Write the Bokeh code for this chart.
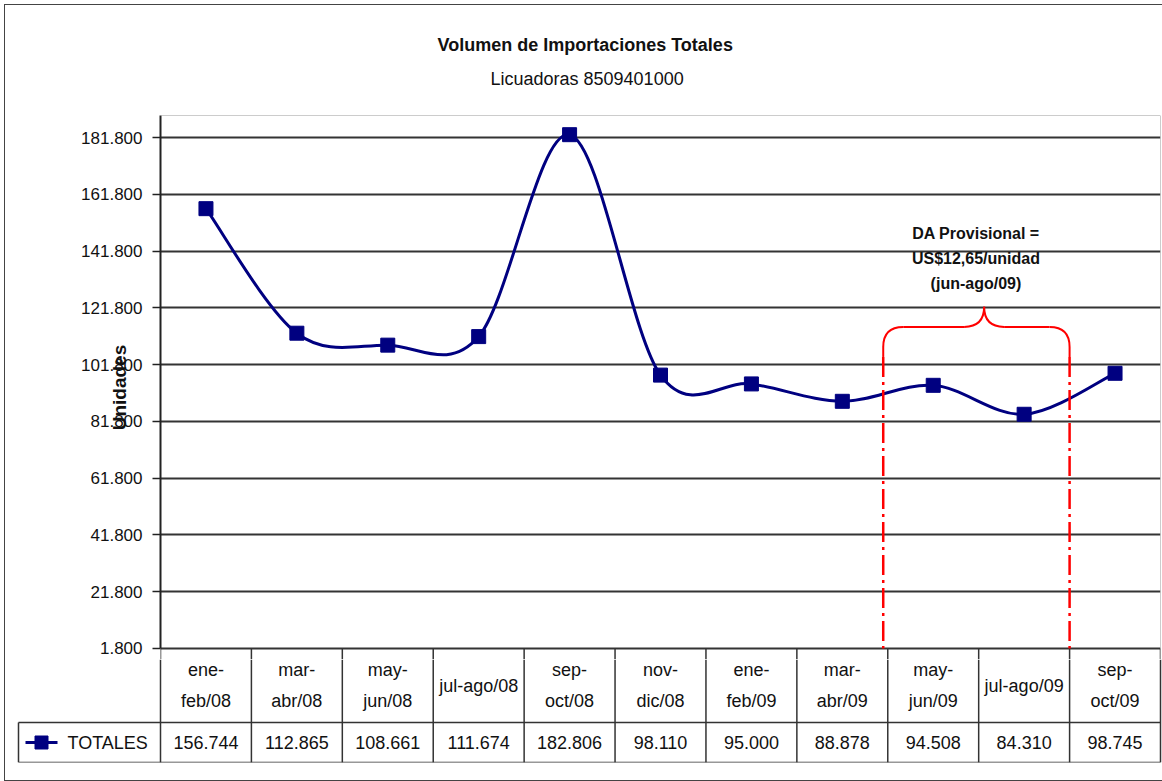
from bokeh.plotting import figure
from bokeh.models import Range1d, FixedTicker, CustomJSTickFormatter, Title, Span
from bokeh.layouts import column
from bokeh.embed import file_html
from bokeh.resources import INLINE
from bokeh.core.properties import value

# ---------------- data ----------------
categories = ["ene-\nfeb/08", "mar-\nabr/08", "may-\njun/08", "jul-ago/08", "sep-\noct/08",
              "nov-\ndic/08", "ene-\nfeb/09", "mar-\nabr/09", "may-\njun/09", "jul-ago/09",
              "sep-\noct/09"]
totales = [156744, 112865, 108661, 111674, 182806, 98110, 95000, 88878, 94508, 84310, 98745]
y_ticks = [1800, 21800, 41800, 61800, 81800, 101800, 121800, 141800, 161800, 181800]
series_name = "TOTALES"
title_text = "Volumen de Importaciones Totales"
subtitle_text = "Licuadoras 8509401000"
y_label = "Unidades"
note_lines = ["DA Provisional =", "US$12,65/unidad", "(jun-ago/09)"]

# annotation geometry (data units)
BR_LEFT, BR_RIGHT, BR_TIP = 7.45, 9.5, 8.56
BR_CORNER, BR_MID, BR_TOP, BR_SOLID = 108035, 115094, 122153, 104500
NOTE_X, NOTE_Y = 8.47, [148000, 139200, 130400]

FONT = "Liberation Sans"
NAVY = "#000080"
RED = "#FF0000"
INK = "#111111"
Y_START, Y_END = -2082, 189565

n = len(totales)
xs = list(range(n))

# ---------------- main chart ----------------
p = figure(width=1157, height=654, x_range=Range1d(-0.5, 10.5),
           y_range=Range1d(Y_START, Y_END), output_backend="svg", toolbar_location=None,
           x_axis_location=None, min_border_left=155, min_border_right=2,
           min_border_top=110, min_border_bottom=0)
p.frame_align = False
p.outline_line_color = None
p.xgrid.visible = False
p.ygrid.ticker = FixedTicker(ticks=y_ticks)
p.ygrid.grid_line_color = "#333333"
p.ygrid.grid_line_width = 2
ax = p.yaxis[0]
ax.ticker = FixedTicker(ticks=y_ticks)
ax.bounds = (y_ticks[0], Y_END)
ax.formatter = CustomJSTickFormatter(code="return (tick/1000).toFixed(3);")
ax.major_tick_out = 8
ax.major_tick_in = 0
ax.minor_tick_line_color = None
ax.axis_line_color = "#222222"
ax.axis_line_width = 2
ax.major_tick_line_color = "#222222"
ax.major_tick_line_width = 1.5
ax.major_label_text_font = FONT
ax.major_label_text_font_size = "17px"
ax.major_label_text_color = INK
ax.major_label_standoff = 10
ax.axis_label = y_label
ax.axis_label_text_font = FONT
ax.axis_label_text_font_style = "bold"
ax.axis_label_text_font_size = "19px"
ax.axis_label_text_color = INK
ax.axis_label_standoff = -52

p.add_layout(Span(location=Y_END, dimension="width", line_color="#999999", line_width=1))
p.add_layout(Span(location=10.5, dimension="height", line_color="#999999", line_width=1))

p.add_layout(Title(text=subtitle_text, align="left", offset=330, standoff=53,
                   text_font=FONT, text_font_style="normal", text_font_size="18px",
                   text_color=INK), "above")
p.add_layout(Title(text=title_text, align="left", offset=277, standoff=-29,
                   text_font=FONT, text_font_style="bold", text_font_size="18px",
                   text_color=INK), "above")

# upper part of the data-table column borders (below the 1.800 line)
bounds = [i - 0.5 for i in range(n + 1)]
p.segment(x0=bounds, y0=[y_ticks[0]] * len(bounds), x1=bounds, y1=[Y_START] * len(bounds),
          line_color="#333333", line_width=1.5)

# smoothed line (Excel-like cubic Bezier through the data points)
x0, y0, x1, y1, cx0, cy0, cx1, cy1 = [], [], [], [], [], [], [], []
for i in range(n - 1):
    pm = i - 1 if i > 0 else 0
    pp = i + 2 if i + 2 < n else n - 1
    x0.append(xs[i]); y0.append(totales[i])
    x1.append(xs[i + 1]); y1.append(totales[i + 1])
    cx0.append(xs[i] + (xs[i + 1] - xs[pm]) / 6.0)
    cy0.append(totales[i] + (totales[i + 1] - totales[pm]) / 6.0)
    cx1.append(xs[i + 1] - (xs[pp] - xs[i]) / 6.0)
    cy1.append(totales[i + 1] - (totales[pp] - totales[i]) / 6.0)
p.bezier(x0=x0, y0=y0, x1=x1, y1=y1, cx0=cx0, cy0=cy0, cx1=cx1, cy1=cy1,
         line_color=NAVY, line_width=3)
p.scatter(xs, totales, marker="square", size=14, fill_color=NAVY, line_color=NAVY)

# red brace
dx = 0.22
p.quadratic(x0=[BR_LEFT, BR_TIP - dx, BR_TIP + dx, BR_RIGHT - dx],
            y0=[BR_CORNER, BR_MID, BR_MID, BR_MID],
            x1=[BR_LEFT + dx, BR_TIP, BR_TIP, BR_RIGHT],
            y1=[BR_MID, BR_TOP, BR_TOP, BR_CORNER],
            cx=[BR_LEFT, BR_TIP, BR_TIP, BR_RIGHT],
            cy=[BR_MID, BR_MID, BR_MID, BR_MID],
            line_color=RED, line_width=2)
p.segment(x0=[BR_LEFT + dx, BR_TIP + dx], y0=[BR_MID, BR_MID],
          x1=[BR_TIP - dx, BR_RIGHT - dx], y1=[BR_MID, BR_MID],
          line_color=RED, line_width=2)
p.segment(x0=[BR_LEFT, BR_RIGHT], y0=[BR_CORNER, BR_CORNER],
          x1=[BR_LEFT, BR_RIGHT], y1=[BR_SOLID, BR_SOLID],
          line_color=RED, line_width=2)
p.segment(x0=[BR_LEFT, BR_RIGHT], y0=[BR_SOLID, BR_SOLID],
          x1=[BR_LEFT, BR_RIGHT], y1=[y_ticks[0], y_ticks[0]],
          line_color=RED, line_width=2.5, line_dash="20 5 3 5")

p.text(x=[NOTE_X] * 3, y=NOTE_Y, text=note_lines, text_align="center",
       text_baseline="middle", text_font=value(FONT), text_font_style="bold",
       text_font_size="16px", text_color=INK)

# ---------------- data table ----------------
t = figure(width=1157, height=121, x_range=Range1d(-2.084, 10.522),
           y_range=Range1d(0, 103), output_backend="svg", toolbar_location=None,
           x_axis_location=None, y_axis_location=None, min_border_left=11,
           min_border_right=0, min_border_top=0, min_border_bottom=18)
t.frame_align = False
t.grid.visible = False
t.outline_line_color = None
LEFT = -2.062
t.segment(x0=bounds, y0=[0] * len(bounds), x1=bounds, y1=[103] * len(bounds),
          line_color="#333333", line_width=1.5)
t.segment(x0=[LEFT, LEFT, LEFT], y0=[0, 40, 0], x1=[10.5, 10.5, LEFT], y1=[0, 40, 40],
          line_color="#333333", line_width=1.5)
t.text(x=xs, y=[77] * n, text=categories, text_align="center", text_baseline="middle",
       text_font=value(FONT), text_font_size="18px", text_color=INK,
       text_line_height=1.55)
vals = [f"{v:,}".replace(",", ".") for v in totales]
t.text(x=xs, y=[20] * n, text=vals, text_align="center", text_baseline="middle",
       text_font=value(FONT), text_font_size="18px", text_color=INK)
t.line(x=[-1.985, -1.633], y=[20, 20], line_color=NAVY, line_width=3)
t.scatter(x=[-1.809], y=[20], marker="square", size=13, fill_color=NAVY, line_color=NAVY)
t.text(x=[-1.523], y=[20], text=[series_name], text_align="left", text_baseline="middle",
       text_font=value(FONT), text_font_size="18px", text_color=INK)

layout = column(p, t, spacing=0,
                styles={"margin": "4px 0 0 4px",
                        "border-left": "1px solid #444444", "border-top": "1px solid #444444",
                        "border-bottom": "1px solid #444444"})

open("out.html", "w").write(file_html(layout, INLINE))
